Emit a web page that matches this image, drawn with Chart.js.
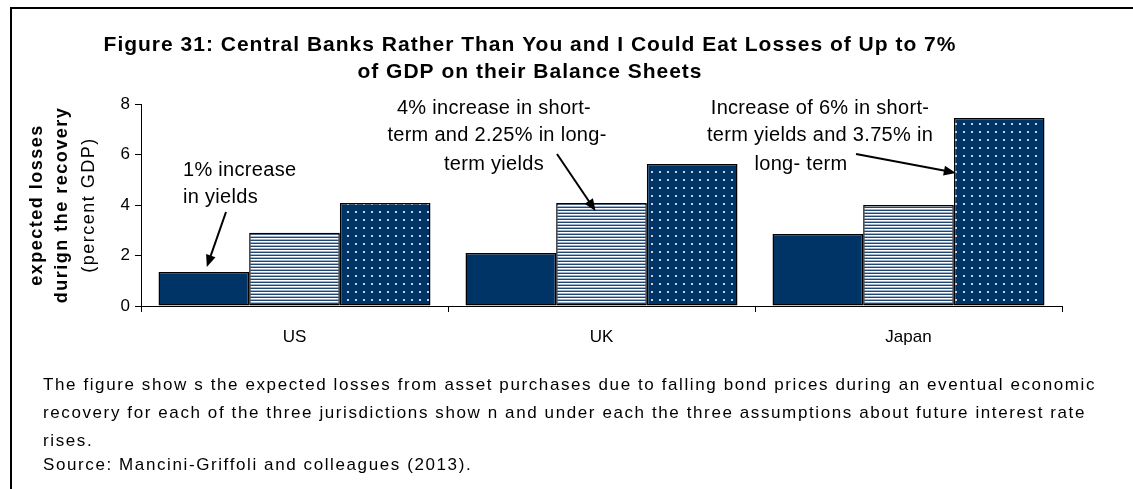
<!DOCTYPE html>
<html>
<head>
<meta charset="utf-8">
<script src="https://cdn.jsdelivr.net/npm/chart.js@4.4.1/dist/chart.umd.min.js"></script>
<style>
  html, body { margin: 0; padding: 0; background: #fff; }
  body { width: 1133px; height: 489px; position: relative; overflow: hidden; font-family: "Liberation Sans", Arial, sans-serif; }
  #frame { position: absolute; left: 10px; top: 7px; width: 1140px; height: 500px; border-top: 2px solid #000; border-left: 2px solid #000; }
  #chart { position: absolute; left: 0; top: 0; }
  .note { position: absolute; left: 43px; font-size: 17px; color: #000; white-space: nowrap; line-height: 20px; letter-spacing: 1.6px; }
</style>
</head>
<body>
<div id="frame"></div>
<canvas id="chart" width="1133" height="489"></canvas>
<div class="note" style="top:375px">The figure show s the expected losses from asset purchases due to falling bond prices during an eventual economic</div>
<div class="note" style="top:403px">recovery for each of the three jurisdictions show n and under each the three assumptions about future interest rate</div>
<div class="note" style="top:431px">rises.</div>
<div class="note" style="top:455px">Source: Mancini-Griffoli and colleagues (2013).</div>
<script>
document.addEventListener("DOMContentLoaded", function () {
  // datos del grafico
  const categories = ['US', 'UK', 'Japan'];
  const yields1pct = [1.35, 2.1, 2.85];      // barra solida
  const yields4pct = [2.9, 4.08, 4.0];       // barra rayada
  const yields6pct = [4.08, 5.62, 7.45];     // barra punteada
  const yTicks = [0, 2, 4, 6, 8];

  const titleLines = ['Figure 31: Central Banks Rather Than You and I Could Eat Losses of Up to 7%',
                      'of GDP on their Balance Sheets'];
  const yTitle = ['expected losses', 'durign the recovery', '(percent GDP)'];

  const FONT = '"Liberation Sans", Arial, sans-serif';
  const NAVY = '#003366';

  // patrones de relleno
  function stripes() {
    const c = document.createElement('canvas');
    c.width = 4; c.height = 3;
    const g = c.getContext('2d');
    g.fillStyle = '#ffffff'; g.fillRect(0, 0, 4, 3);
    g.fillStyle = '#1f4672'; g.fillRect(0, 0, 4, 1);
    g.fillStyle = '#9fb3cc'; g.fillRect(0, 2, 4, 1);
    return g.createPattern(c, 'repeat');
  }
  function dots() {
    const c = document.createElement('canvas');
    c.width = 8; c.height = 8;
    const g = c.getContext('2d');
    g.fillStyle = NAVY; g.fillRect(0, 0, 8, 8);
    g.fillStyle = '#c9d3e1'; g.fillRect(3, 3, 2, 2);
    return g.createPattern(c, 'repeat');
  }

  function arrow(ctx, x1, y1, x2, y2) {
    const a = Math.atan2(y2 - y1, x2 - x1);
    const L = 12, W = 5;
    ctx.beginPath();
    ctx.moveTo(x1, y1);
    ctx.lineTo(x2 - Math.cos(a) * L * 0.8, y2 - Math.sin(a) * L * 0.8);
    ctx.stroke();
    ctx.beginPath();
    ctx.moveTo(x2, y2);
    ctx.lineTo(x2 - Math.cos(a) * L + Math.sin(a) * W, y2 - Math.sin(a) * L - Math.cos(a) * W);
    ctx.lineTo(x2 - Math.cos(a) * L - Math.sin(a) * W, y2 - Math.sin(a) * L + Math.cos(a) * W);
    ctx.closePath();
    ctx.fill();
  }

  const overlay = {
    id: 'overlay',
    afterDraw(chart) {
      const ctx = chart.ctx;
      ctx.save();
      ctx.fillStyle = '#000';
      ctx.strokeStyle = '#000';
      ctx.textBaseline = 'middle';

      // titulo
      ctx.textAlign = 'center';
      ctx.font = 'bold 21px ' + FONT;
      ctx.letterSpacing = '1px';
      titleLines.forEach((t, i) => ctx.fillText(t, 530, 45 + i * 27));

      // titulo eje y
      ctx.save();
      ctx.translate(0, 205);
      ctx.rotate(-Math.PI / 2);
      ctx.letterSpacing = '1.5px';
      ctx.font = 'bold 18px ' + FONT;
      ctx.fillText(yTitle[0], 0, 37);
      ctx.fillText(yTitle[1], 0, 62);
      ctx.font = '18px ' + FONT;
      ctx.fillText(yTitle[2], 0, 89);
      ctx.restore();

      // anotaciones
      ctx.letterSpacing = '0.3px';
      ctx.font = '20px ' + FONT;
      ctx.textAlign = 'left';
      ctx.fillText('1% increase', 183, 170);
      ctx.fillText('in yields', 183, 197);
      ctx.textAlign = 'center';
      ctx.fillText('4% increase in short-', 494, 108);
      ctx.fillText('term and 2.25% in long-', 497, 135);
      ctx.fillText('term yields', 494, 164);
      ctx.fillText('Increase of 6% in short-', 820, 108);
      ctx.fillText('term yields and 3.75% in', 820, 135);
      ctx.fillText('long- term', 801, 164);
      ctx.letterSpacing = '0px';

      ctx.lineWidth = 2;
      const b1 = chart.getDatasetMeta(0).data[0];
      const b2 = chart.getDatasetMeta(1).data[1];
      const b3 = chart.getDatasetMeta(2).data[2];
      arrow(ctx, 226, 212, b1.x + 3, b1.y - 5);
      arrow(ctx, 557, 154, b2.x - 6, b2.y + 8);
      arrow(ctx, 856, 154, b3.x - b3.width / 2 + 2, b3.y + 55);
      ctx.restore();
    }
  };

  const common = { borderColor: '#000', borderWidth: 1.5, borderSkipped: false,
                   categoryPercentage: 0.886, barPercentage: 1.0 };

  new Chart(document.getElementById('chart'), {
    type: 'bar',
    data: {
      labels: categories,
      datasets: [
        Object.assign({ label: '1%', data: yields1pct, backgroundColor: NAVY }, common),
        Object.assign({ label: '4%', data: yields4pct, backgroundColor: stripes() }, common),
        Object.assign({ label: '6%', data: yields6pct, backgroundColor: dots() }, common)
      ]
    },
    options: {
      responsive: false,
      animation: false,
      devicePixelRatio: 1,
      layout: { padding: { left: 0, top: 104, right: 71, bottom: 143 } },
      plugins: { legend: { display: false }, title: { display: false }, tooltip: { enabled: false } },
      scales: {
        x: {
          grid: { display: true, offset: true, drawOnChartArea: false, drawTicks: true, tickLength: 6, color: '#000', lineWidth: 1 },
          border: { display: true, color: '#000', width: 1 },
          ticks: { color: '#000', font: { size: 17, family: FONT }, padding: 15 },
          afterFit(s) { s.height = 40; }
        },
        y: {
          min: 0, max: 8,
          afterBuildTicks(s) { s.ticks = yTicks.map(v => ({ value: v })); },
          grid: { drawOnChartArea: false, drawTicks: true, tickLength: 6, color: '#000' },
          border: { display: true, color: '#000', width: 1 },
          ticks: { color: '#000', font: { size: 17, family: FONT }, padding: 5 },
          afterFit(s) { s.width = 141; }
        }
      }
    },
    plugins: [overlay]
  });
});
</script>
</body>
</html>
